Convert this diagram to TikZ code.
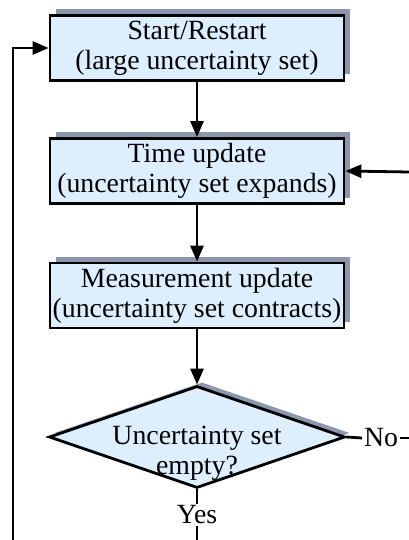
\documentclass[tikz,border=0pt]{standalone}
\usepackage{fontspec}
\setmainfont{Liberation Serif}
\usetikzlibrary{shapes.geometric,shadows,arrows.meta}
\definecolor{boxblue}{RGB}{221,238,255}
\definecolor{shadowgray}{RGB}{140,150,172}
\begin{document}
\begin{tikzpicture}[x=1pt,y=-1pt,
  txt/.style={font=\fontsize{27.8}{30}\selectfont},
  box/.style={txt, draw=black, line width=2.8pt, fill=boxblue,
    minimum width=294pt, minimum height=65pt, inner sep=0pt, align=center,
    drop shadow={shadow xshift=6pt, shadow yshift=6pt, fill=shadowgray, opacity=1}},
  dia/.style={draw=black, line width=2.8pt, fill=boxblue, diamond,
    minimum width=296pt, minimum height=102pt, inner sep=0pt,
    drop shadow={shadow xshift=5pt, shadow yshift=4pt, fill=shadowgray, opacity=1}},
  lbl/.style={txt, inner sep=2pt},
  conn/.style={line width=2.8pt},
  arr/.style={conn, -{Triangle[length=16pt,width=13pt]}}]
\useasboundingbox (0,0) rectangle (409,540);
\node[box] (start) at (197,48) {Start/Restart\\(large uncertainty set)};
\node[box] (time) at (197,171) {Time update\\(uncertainty set expands)};
\node[box] (meas) at (197,295.5) {Measurement update\\(uncertainty set contracts)};
\node[dia] (dec) at (197,437) {};
\node[txt, align=center, inner sep=0pt] (dtext) at (197,453) {Uncertainty set\\empty?};
\node[lbl] (no) at (381,438) {No};
\node[lbl] (yes) at (197,515) {Yes};
\coordinate (bl) at (13,540);
\coordinate (br) at (409,172);
\coordinate (noend) at (409,438);
\coordinate (yesend) at (197,540);
\draw[arr] (start) -- (time);
\draw[arr] (time) -- (meas);
\draw[arr] (meas) -- (dec);
\draw[arr] (br) -- (time.east);
\draw[arr] (bl) |- (start.west);
\draw[conn] (dec.east) -- (no.west);
\draw[conn] (no.east) -- (noend);
\draw[conn] (dec.south) -- (yes.north);
\draw[conn] (yes.south) -- (yesend);
\end{tikzpicture}
\end{document}
